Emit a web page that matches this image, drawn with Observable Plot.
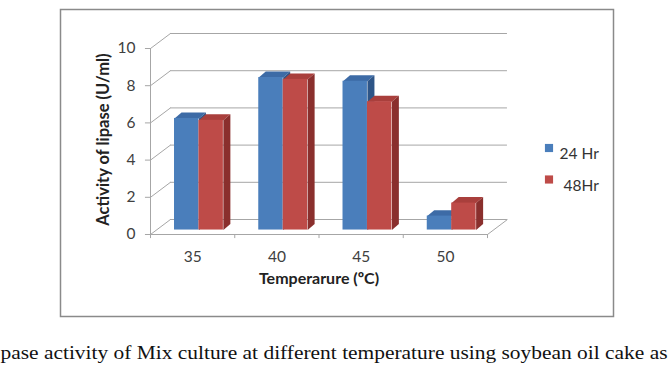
<!DOCTYPE html>
<html><head><meta charset="utf-8">
<script src="https://cdn.jsdelivr.net/npm/d3@7"></script>
<script src="https://cdn.jsdelivr.net/npm/@observablehq/plot@0.6"></script>
<style>body{margin:0;background:#fff}</style>
</head><body><div id="chart"></div>
<script>
const categories = ["35", "40", "45", "50"];
const series = ["24 Hr", "48Hr"];
const values24 = [6.0, 8.2, 8.0, 0.75];
const values48 = [5.9, 8.1, 6.9, 1.45];
const yTicks = [0, 2, 4, 6, 8, 10];
const frontColors = ["#4a7ebb", "#be4b48"];
const topColors = ["#3d6ba6", "#a93f3c"];
const sideColors = ["#2e5587", "#8a2f2d"];
const caption = "pase activity of Mix culture at different temperature using soybean oil cake as";
const xTitle = "Temperarure (ºC)";
const yTitle = "Activity of lipase (U/ml)";

// 3D geometry (in scale units)
const BW = 0.29, BX = 0.285, BY = 0.24, DX = 0.083, DY = 0.32;
const WX = 0.237, WY = 0.806;
const n = categories.length;

const bars = [];
[values24, values48].forEach((vals, s) => vals.forEach((v, i) => {
  const x1 = i + BX + s * BW, x2 = x1 + BW;
  bars.push({s, i, v, x1, x2, y0: BY, top: v + BY});
}));
const faces = [];
bars.forEach((b, k) => {
  [[b.x1, b.top], [b.x2, b.top], [b.x2 + DX, b.top + DY], [b.x1 + DX, b.top + DY]]
    .forEach(([x, y]) => faces.push({id: "t" + k, s: b.s, face: "top", x, y}));
  [[b.x2, b.y0], [b.x2, b.top], [b.x2 + DX, b.top + DY], [b.x2 + DX, b.y0 + DY]]
    .forEach(([x, y]) => faces.push({id: "s" + k, s: b.s, face: "side", x, y}));
});

const grid = "#a6a6a6";
const marks = [
  Plot.frame({stroke: "#8a8a8a", strokeWidth: 1.5, insetLeft: -90, insetTop: -39, insetRight: -126, insetBottom: -82}),
  Plot.ruleY(yTicks, {y: d => d + WY, x1: WX, x2: n + WX, stroke: grid}),
  Plot.link(yTicks, {x1: 0, y1: d => d, x2: WX, y2: d => d + WY, stroke: grid}),
  Plot.ruleY([0], {x1: 0, x2: n, stroke: grid}),
  Plot.link([0], {x1: n, y1: 0, x2: n + WX, y2: WY, stroke: grid}),
  Plot.ruleX([0], {y1: 0, y2: yTicks[yTicks.length - 1], stroke: grid}),
  Plot.ruleY(yTicks, {x1: -0.06, x2: 0, stroke: grid}),
  Plot.ruleX(d3.range(n + 1), {y1: -0.22, y2: 0, stroke: grid})
];
[0, 1].forEach(s => {
  marks.push(
    Plot.line(faces.filter(f => f.s === s && f.face === "top"), {x: "x", y: "y", z: "id", fill: topColors[s], stroke: "none"}),
    Plot.line(faces.filter(f => f.s === s && f.face === "side"), {x: "x", y: "y", z: "id", fill: sideColors[s], stroke: "none"}),
    Plot.rect(bars.filter(b => b.s === s), {x1: "x1", x2: "x2", y1: "y0", y2: "top", fill: frontColors[s]})
  );
});
marks.push(
  Plot.text(yTicks, {x: 0, y: d => d, text: d => String(d), dx: -15, textAnchor: "end", fontSize: 15.5, fill: "#404040"}),
  Plot.text(categories, {x: (d, i) => i + 0.5, y: 0, text: d => d, dy: 23, fontSize: 15.5, fill: "#404040"}),
  Plot.text([xTitle], {frameAnchor: "bottom", text: d => d, dy: 49, fontSize: 16, fontWeight: "bold", fill: "#222"}),
  Plot.text([yTitle], {frameAnchor: "left", text: d => d, dx: -47, dy: -2, rotate: -90, textAnchor: "middle", fontSize: 16.5, fontWeight: "bold", fill: "#222"}),
  Plot.dot([series[0]], {frameAnchor: "top-right", dx: 61.5, dy: 99.5, symbol: "square", r: 4.6, fill: frontColors[0], stroke: "none"}),
  Plot.dot([series[1]], {frameAnchor: "top-right", dx: 61.5, dy: 131, symbol: "square", r: 4.6, fill: frontColors[1], stroke: "none"}),
  Plot.text([series[0]], {frameAnchor: "top-right", text: d => d, dx: 72, dy: 99.5, textAnchor: "start", fontSize: 15.5, fill: "#333"}),
  Plot.text([series[1]], {frameAnchor: "top-right", text: d => d, dx: 76, dy: 131, textAnchor: "start", fontSize: 15.5, fill: "#333"}),
  Plot.text([caption], {frameAnchor: "bottom-left", text: d => d, dx: -150, dy: 124, textAnchor: "start", lineAnchor: "bottom", fontFamily: "Liberation Serif", fontSize: 19.5, fill: "#111", className: "caption"})
);

const chart = Plot.plot({
  width: 672, height: 372,
  marginLeft: 150, marginRight: 185, marginTop: 48, marginBottom: 138,
  x: {domain: [0, n], axis: null},
  y: {domain: [0, 10], axis: null},
  style: {fontFamily: "Lato, sans-serif", background: "#fff", overflow: "visible"},
  marks
});
document.getElementById("chart").appendChild(chart);
const cap = chart.querySelector(".caption text");
if (cap) { cap.setAttribute("textLength", "667"); cap.setAttribute("lengthAdjust", "spacingAndGlyphs"); }
</script>
</body></html>
